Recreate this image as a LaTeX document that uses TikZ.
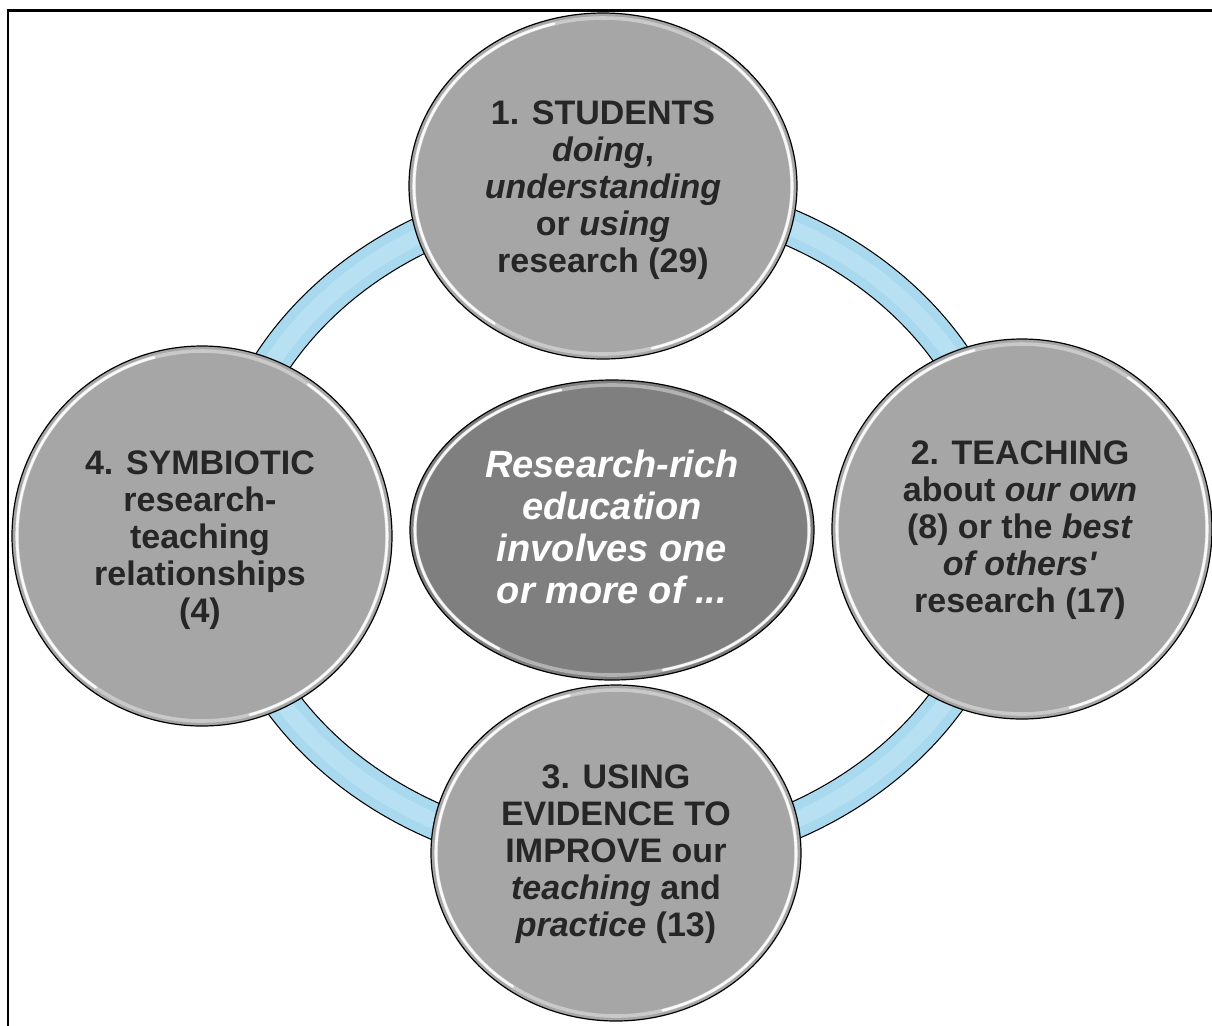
\documentclass[tikz,border=0pt]{standalone}
\usepackage{fontspec}
\setmainfont{Liberation Sans}
\usetikzlibrary{shapes.geometric}
\definecolor{bubgray}{HTML}{A6A6A6}
\definecolor{hubgray}{HTML}{7F7F7F}
\definecolor{inkdark}{HTML}{262626}
\definecolor{ringblue}{HTML}{A9D9EF}
\definecolor{ringlight}{HTML}{B8E0F3}
% glossy inner rim of a disc or an oval: #1 node, #2 x radius, #3 y radius
\newcommand\rimshine[3]{%
  \draw[rim faint] (#1.center) ellipse[x radius={#2-5}, y radius={#3-5}];
  \draw[rim strong] (#1.center) ++(-235:{#2-5} and {#3-5})
    arc[start angle=-235, end angle=-105, x radius={#2-5}, y radius={#3-5}];
  \draw[rim strong] (#1.center) ++(-55:{#2-5} and {#3-5})
    arc[start angle=-55, end angle=75, x radius={#2-5}, y radius={#3-5}];
}
\begin{document}
\begin{tikzpicture}[x=0.5pt,y=-0.5pt,
  bub/.style 2 args={ellipse, draw=black, line width=0.6pt, fill=bubgray,
    minimum width=#1, minimum height=#2, inner sep=0pt},
  hub/.style={ellipse, draw=black, line width=0.6pt, fill=hubgray,
    minimum width=202pt, minimum height=150pt, inner sep=0pt},
  rim faint/.style={white, opacity=0.4, line width=1.8pt},
  rim strong/.style={white, opacity=0.9, line width=1.3pt, line cap=round},
  btxt/.style={align=center, text=inkdark, inner sep=0pt,
    font=\bfseries\fontsize{17}{18.5}\selectfont},
  htxt/.style={align=center, text=white, inner sep=0pt,
    font=\bfseries\itshape\fontsize{19}{21}\selectfont},
]
\useasboundingbox (0,0) rectangle (1212,1025);
\clip (0,0) rectangle (1212,1025);

% frame
\draw[line width=1.1pt] (8,10.5) rectangle (1260,1070);

% connecting ring
\coordinate (ringc) at (614,525);
\draw[line width=18.6pt, black] (ringc) ellipse[x radius=392, y radius=333];
\draw[line width=17.4pt, ringblue] (ringc) ellipse[x radius=392, y radius=333];
\draw[line width=8pt, ringlight] (ringc) ellipse[x radius=392, y radius=333];

% discs
\node[bub={194pt}{173pt}] (s1) at (603,186) {};
\node[bub={190pt}{190pt}] (s2) at (1022,529) {};
\node[bub={185pt}{168pt}] (s3) at (616,853) {};
\node[bub={190pt}{190pt}] (s4) at (202,536) {};
\node[hub] (h) at (612,530) {};
\rimshine{s1}{194}{173}
\rimshine{s2}{190}{190}
\rimshine{s3}{185}{168}
\rimshine{s4}{190}{190}
\rimshine{h}{202}{150}

% texts
\node[btxt] (t1) at (603,190) {1. STUDENTS\\ \textit{doing},\\ \textit{understanding}\\ or \textit{using}\\ research (29)};
\node[btxt] (t2) at (1020,530) {2. TEACHING\\ about \textit{our own}\\ (8) or the \textit{best}\\ \textit{of others\textquotesingle}\\ research (17)};
\node[btxt] (t3) at (616,854) {3. USING\\ EVIDENCE TO\\ IMPROVE our\\ \textit{teaching} and\\ \textit{practice} (13)};
\node[btxt] (t4) at (200,540) {4. SYMBIOTIC\\ research-\\ teaching\\ relationships\\ (4)};
\node[htxt] (th) at (612,527) {Research-rich\\ education\\ involves one\\ or more of ...};
\end{tikzpicture}
\end{document}
